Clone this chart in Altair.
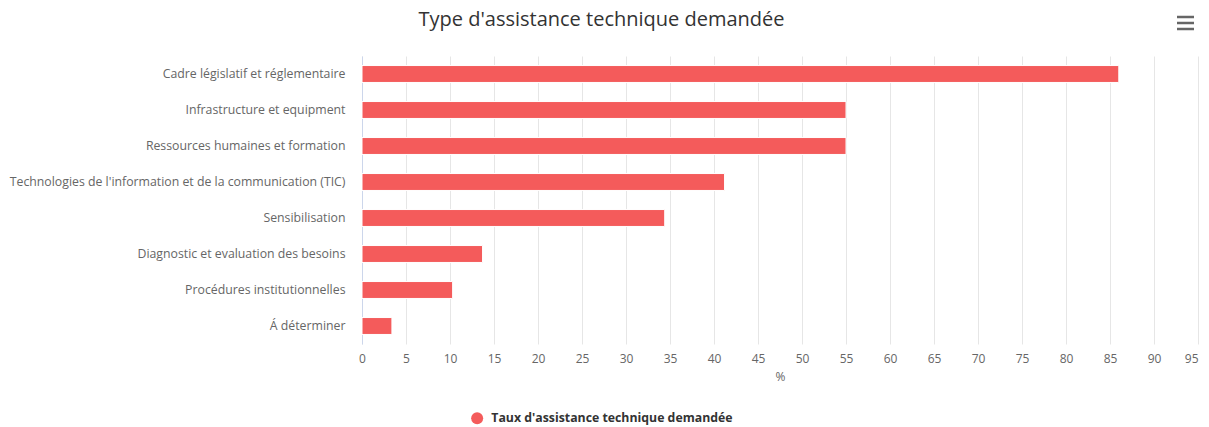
import altair as alt
import pandas as pd

# ---- data ----
categories = [
    "Cadre législatif et réglementaire",
    "Infrastructure et equipment",
    "Ressources humaines et formation",
    "Technologies de l'information et de la communication (TIC)",
    "Sensibilisation",
    "Diagnostic et evaluation des besoins",
    "Procédures institutionnelles",
    "Á déterminer",
]
values = [86.0, 55.0, 55.0, 41.2, 34.4, 13.7, 10.3, 3.4]
series_name = "Taux d'assistance technique demandée"
x_ticks = list(range(0, 100, 5))
title_text = "Type d'assistance technique demandée"

df = pd.DataFrame({"category": categories, "value": values, "series": [series_name] * len(categories)})
one = pd.DataFrame({"t": [title_text]})

FONT = "Open Sans"
BAR_COLOR = "#f45b5b"

bars = alt.Chart(df).mark_bar(stroke="white", strokeWidth=1).encode(
    x=alt.X(
        "value:Q",
        scale=alt.Scale(domain=[0, 95], nice=False, zero=True),
        axis=alt.Axis(
            values=x_ticks,
            title="%",
            grid=True,
            gridColor="#e6e6e6",
            gridWidth=1,
            domain=False,
            ticks=False,
            labelColor="#666666",
            labelFontSize=12,
            labelFont=FONT,
            labelPadding=9,
            labelFlush=False,
            labelAlign={"condition": {"test": "datum.value >= 95", "value": "right"}, "value": "center"},
            titleColor="#666666",
            titleFont=FONT,
            titleFontSize=12,
            titleFontWeight="normal",
            titlePadding=7,
        ),
    ),
    y=alt.Y(
        "category:N",
        sort=categories,
        scale=alt.Scale(paddingInner=0.53, paddingOuter=0.265),
        axis=alt.Axis(
            title=None,
            domain=True,
            domainColor="#ccd6eb",
            domainWidth=1,
            ticks=False,
            grid=False,
            labelColor="#666666",
            labelFontSize=12.3,
            labelFont=FONT,
            labelPadding=17,
            labelLimit=0,
        ),
    ),
    color=alt.Color(
        "series:N",
        scale=alt.Scale(range=[BAR_COLOR]),
        legend=alt.Legend(
            title=None,
            orient="none",
            legendX=109,
            legendY=356,
            direction="horizontal",
            symbolType="circle",
            symbolSize=144,
            symbolStrokeWidth=0,
            symbolOpacity=1,
            labelFont=FONT,
            labelFontSize=12.3,
            labelFontWeight="bold",
            labelColor="#333333",
            labelOffset=8,
            padding=0,
            labelLimit=0,
        ),
    ),
)

title_mark = alt.Chart(one).mark_text(
    font=FONT, fontSize=20, fontWeight="normal", color="#333333", align="center", baseline="alphabetic"
).encode(x=alt.value(239.5), y=alt.value(-30.5), text="t:N")

def menu_line(yv):
    return alt.Chart(one).mark_rule(color="#666666", strokeWidth=2.5).encode(
        x=alt.value(815), x2=alt.value(832), y=alt.value(yv)
    )

chart = alt.layer(
    bars, title_mark, menu_line(-39), menu_line(-33), menu_line(-27)
).properties(
    width=836,
    height=288,
    autosize=alt.AutoSizeParams(type="none"),
    padding={"left": 354, "top": 48, "right": 3, "bottom": 82},
).configure_view(stroke=None)

chart.save("out.html", embed_options={"renderer": "svg", "actions": False})
